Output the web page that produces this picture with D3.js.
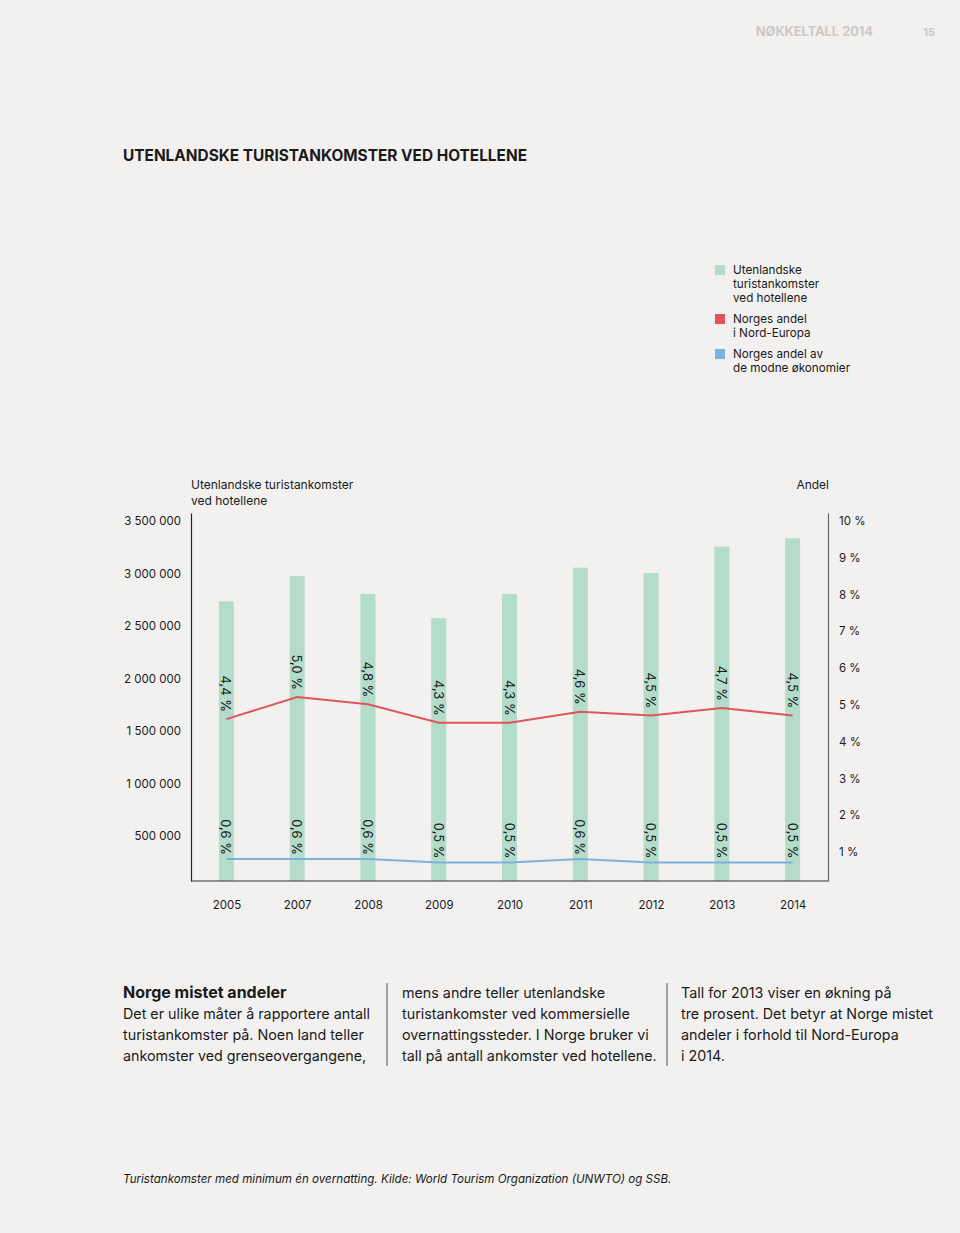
<!DOCTYPE html>
<html><head><meta charset="utf-8">
<script src="https://cdn.jsdelivr.net/npm/d3@7"></script>
<style>
html,body{margin:0;padding:0;background:#f2f1f0;}
svg{display:block;font-family:Inter, "Noto Sans", sans-serif;}
</style></head>
<body>
<svg id="c" width="960" height="1233"></svg>
<script>
const years = ["2005","2007","2008","2009","2010","2011","2012","2013","2014"];
const arrivals = [2660000,2900000,2730000,2500000,2730000,2980000,2930000,3180000,3260000];
const nordShare = [4.4,5.0,4.8,4.3,4.3,4.6,4.5,4.7,4.5];
const matureShare = [0.6,0.6,0.6,0.5,0.5,0.6,0.5,0.5,0.5];
const leftTicks = [500000,1000000,1500000,2000000,2500000,3000000,3500000];
const rightTicks = [1,2,3,4,5,6,7,8,9,10];
const legendItems = [
  {label:["Utenlandske","turistankomster","ved hotellene"], color:"#b3dccb"},
  {label:["Norges andel","i Nord-Europa"], color:"#e2545c"},
  {label:["Norges andel av","de modne økonomier"], color:"#7cb2e0"}
];
const columns = [
  ["Det er ulike måter å rapportere antall","turistankomster på. Noen land teller","ankomster ved grenseovergangene,"],
  ["mens andre teller utenlandske","turistankomster ved kommersielle","overnattingssteder. I Norge bruker vi","tall på antall ankomster ved hotellene."],
  ["Tall for 2013 viser en økning på","tre prosent. Det betyr at Norge mistet","andeler i forhold til Nord-Europa","i 2014."]
];

const svg = d3.select("#c");
const txt = "#1a1a1a";
const fmtNum = d => d3.format(",")(d).replace(/,/g," ");
const fmtPct = d => d.toFixed(1).replace(".",",") + " %";

// header
svg.append("text").attr("x",873).attr("y",36).attr("text-anchor","end")
  .attr("font-size",12.8).attr("font-weight",700).attr("fill","#cbc8c6").text("NØKKELTALL 2014");
svg.append("text").attr("x",935).attr("y",36).attr("text-anchor","end")
  .attr("font-size",11).attr("font-weight",700).attr("fill","#cbc8c6").text("15");

svg.append("text").attr("x",123).attr("y",161).attr("font-size",15.4).attr("font-weight",700)
  .attr("fill",txt).text("UTENLANDSKE TURISTANKOMSTER VED HOTELLENE");

// legend
let ly = 265;
legendItems.forEach(it=>{
  svg.append("rect").attr("x",715).attr("y",ly).attr("width",10).attr("height",10).attr("fill",it.color);
  it.label.forEach((l,i)=>{
    svg.append("text").attr("x",733).attr("y",ly+9+i*14).attr("font-size",11.7).attr("fill",txt).text(l);
  });
  ly += it.label.length*14 + 7;
});

// scales
const x0 = 191, x1 = 828, yTop = 513, yBot = 881;
const x = d3.scalePoint().domain(years).range([x0,x1]).padding(0.5);
const yL = d3.scaleLinear().domain([0,3500000]).range([yBot,yTop]);
const yR = d3.scaleLinear().domain([0,10]).range([yBot,yTop]);

// axis titles
svg.append("text").attr("x",191).attr("y",489).attr("font-size",12).attr("fill",txt).text("Utenlandske turistankomster");
svg.append("text").attr("x",191).attr("y",505).attr("font-size",12).attr("fill",txt).text("ved hotellene");
svg.append("text").attr("x",829).attr("y",489).attr("text-anchor","end").attr("font-size",12).attr("fill",txt).text("Andel");

// bars
svg.append("g").selectAll("rect").data(years).join("rect")
  .attr("x",d=>x(d)-7.5).attr("width",15)
  .attr("y",(d,i)=>yL(arrivals[i])).attr("height",(d,i)=>yBot-yL(arrivals[i]))
  .attr("fill","#b3dccb");

// axes
const gl = svg.append("g").attr("transform",`translate(${x0},0)`)
  .call(d3.axisLeft(yL).tickValues(leftTicks).tickSize(0).tickPadding(10).tickFormat(fmtNum));
gl.select(".domain").attr("stroke","#222").attr("stroke-width",1.2);
gl.selectAll("text").attr("dy","1.0em").attr("font-size",11.5).attr("fill",txt).attr("font-family","Inter, sans-serif");

const gr = svg.append("g").attr("transform",`translate(${x1},0)`)
  .call(d3.axisRight(yR).tickValues(rightTicks).tickSize(0).tickPadding(11).tickFormat(d=>d+" %"));
gr.select(".domain").attr("stroke","#666").attr("stroke-width",1.2);
gr.selectAll("text").attr("dy","1.0em").attr("font-size",11.5).attr("fill",txt).attr("font-family","Inter, sans-serif");

const gb = svg.append("g").attr("transform",`translate(0,${yBot})`)
  .call(d3.axisBottom(x).tickSize(0).tickPadding(20));
gb.select(".domain").attr("stroke","#333").attr("stroke-width",1.2).attr("d",`M${x0},0H${x1}`);
gb.selectAll("text").attr("font-size",11.5).attr("fill",txt).attr("font-family","Inter, sans-serif");

// lines
const lineR = d3.line().x((d,i)=>x(years[i])).y(d=>yR(d));
svg.append("path").datum(nordShare).attr("d",lineR).attr("fill","none").attr("stroke","#e2545c").attr("stroke-width",2);
svg.append("path").datum(matureShare).attr("d",lineR).attr("fill","none").attr("stroke","#7cb2e0").attr("stroke-width",2);

// value labels
function labels(arr, gap){
  svg.append("g").selectAll("text").data(arr).join("text")
    .attr("transform",(d,i)=>`translate(${x(years[i])},${yR(d)-gap}) rotate(90)`)
    .attr("text-anchor","end").attr("dominant-baseline","central")
    .attr("font-size",13).attr("fill",txt).text(fmtPct);
}
labels(nordShare, 7);
labels(matureShare, 4);

// bottom text
const colX = [123,402,681];
svg.append("text").attr("x",123).attr("y",998).attr("font-size",16).attr("font-weight",700).attr("fill",txt).text("Norge mistet andeler");
columns.forEach((c,ci)=>{
  const off = ci===0 ? 1 : 0;
  c.forEach((l,li)=>{
    svg.append("text").attr("x",colX[ci]).attr("y",998+(li+off)*21).attr("font-size",14.3).attr("fill",txt).text(l);
  });
});
[387,667].forEach(xx=>svg.append("line").attr("x1",xx).attr("x2",xx).attr("y1",983).attr("y2",1066).attr("stroke","#555").attr("stroke-width",1));

svg.append("text").attr("x",123).attr("y",1183).attr("font-size",11.6).attr("font-style","italic").attr("fill",txt)
  .text("Turistankomster med minimum én overnatting. Kilde: World Tourism Organization (UNWTO) og SSB.");
</script>
</body></html>
